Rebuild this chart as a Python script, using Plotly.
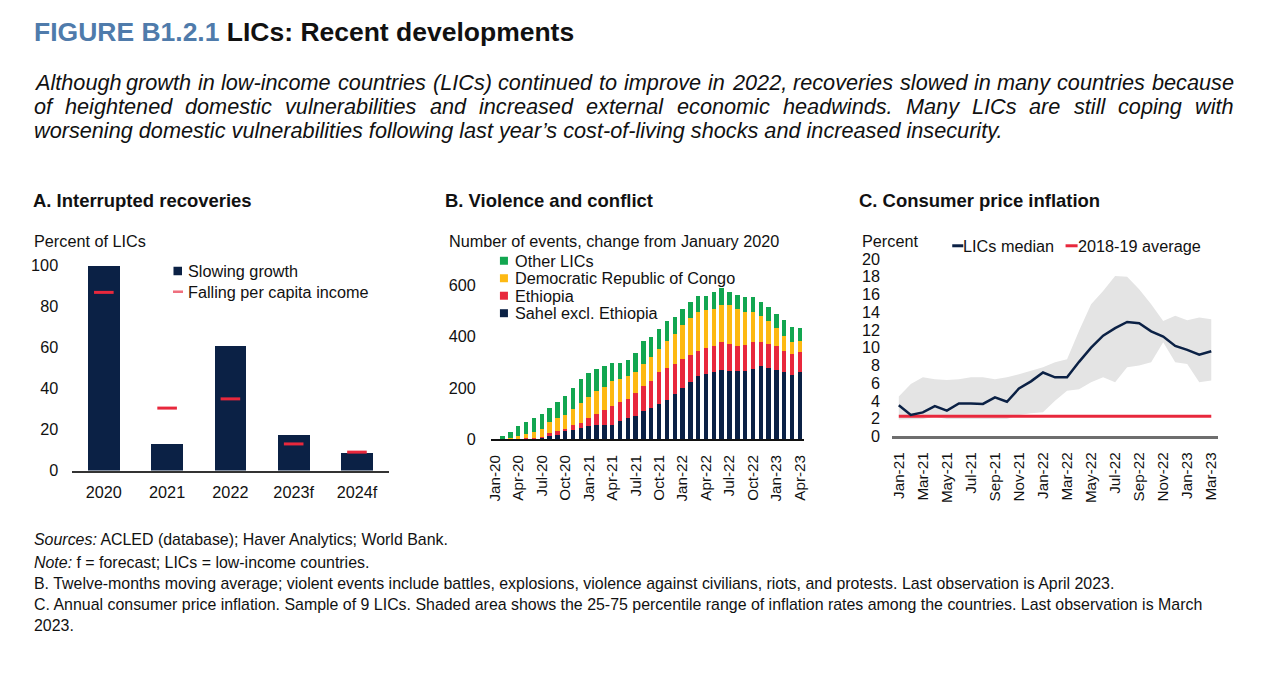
import plotly.graph_objects as go

# ---------------- DATA ----------------
a_years = ["2020", "2021", "2022", "2023f", "2024f"]
a_slowing_growth = [100, 13, 61, 17.5, 8.6]
a_falling_pc_income = [87, 30.5, 35, 13, 9]

b_months = [f"{m}-{y}" for y in ["20", "21", "22", "23"]
            for m in ["Jan", "Feb", "Mar", "Apr", "May", "Jun", "Jul", "Aug", "Sep", "Oct", "Nov", "Dec"]][:40]
b_sahel = [0, 0, 0, 0, 0, 2, 6, 16, 17, 33, 35, 43, 51, 53, 56, 56, 72, 81, 90, 108,
           120, 136, 153, 175, 198, 222, 245, 254, 261, 270, 267, 267, 267, 274, 284, 276, 270, 261, 252, 261]
b_ethiopia = [0, 0, 0, 0, 3, 3, 3, 7, 13, 6, 20, 21, 31, 45, 57, 74, 71, 76, 89, 101,
              108, 125, 123, 118, 115, 108, 101, 101, 102, 108, 105, 96, 102, 104, 94, 96, 93, 85, 81, 78]
b_drc = [0, 0, 2, 10, 17, 22, 28, 42, 50, 55, 62, 76, 84, 88, 92, 98, 93, 88, 82, 84,
         94, 91, 109, 118, 134, 143, 152, 150, 146, 148, 152, 146, 127, 118, 102, 91, 70, 58, 45, 43]
b_other = [0, 11, 24, 40, 48, 53, 61, 55, 66, 73, 81, 95, 92, 88, 82, 68, 60, 64, 75, 89,
           78, 78, 78, 68, 62, 62, 63, 56, 67, 67, 52, 54, 58, 61, 55, 52, 55, 62, 61, 51]
b_tick_labels = b_months[::3]

c_months = [f"{m}-{y}" for y in ["21", "22", "23"]
            for m in ["Jan", "Feb", "Mar", "Apr", "May", "Jun", "Jul", "Aug", "Sep", "Oct", "Nov", "Dec"]][:27]
c_median = [3.5, 2.4, 2.7, 3.4, 2.9, 3.7, 3.7, 3.65, 4.4, 3.9, 5.4, 6.2, 7.2, 6.65, 6.65,
            8.4, 10.0, 11.35, 12.2, 12.9, 12.75, 11.85, 11.25, 10.2, 9.75, 9.2, 9.6]
c_p75 = [4.5, 5.9, 6.65, 6.45, 6.35, 6.45, 6.65, 6.65, 6.45, 6.65, 7.0, 7.4, 7.8, 8.35, 8.7,
         11.9, 14.9, 16.4, 18.1, 18.0, 16.6, 14.9, 13.0, 13.6, 13.1, 13.4, 13.2]
c_p25 = [1.9, 1.95, 1.95, 2.2, 1.95, 1.95, 1.95, 1.95, 2.0, 1.95, 2.4, 2.6, 2.7, 4.0, 5.15,
         5.3, 6.1, 6.65, 6.1, 7.8, 8.0, 8.35, 10.6, 8.35, 8.15, 6.1, 6.3]
c_avg_2018_19 = 2.25
c_tick_labels = c_months[::2]

# ---------------- TEXT ----------------
title_prefix = "FIGURE B1.2.1"
title_main = "LICs: Recent developments"
subtitle_lines = [
    "Although growth in low-income countries (LICs) continued to improve in 2022, recoveries slowed in many countries because",
    "of heightened domestic vulnerabilities and increased external economic headwinds. Many LICs are still coping with",
    "worsening domestic vulnerabilities following last year’s cost-of-living shocks and increased insecurity.",
]
footnotes = [
    "<i>Sources:</i> ACLED (database); Haver Analytics; World Bank.",
    "<i>Note:</i> f = forecast; LICs = low-income countries.",
    "B. Twelve-months moving average; violent events include battles, explosions, violence against civilians, riots, and protests. Last observation is April 2023.",
    "C. Annual consumer price inflation. Sample of 9 LICs. Shaded area shows the 25-75 percentile range of inflation rates among the countries. Last observation is March",
    "2023.",
]

# ---------------- GEOMETRY ----------------
W_PX, H_PX = 1262, 694
# mapping from target-picture pixels to page pixels (compensates the capture framing)
SX, OX, SY, OY = 0.990, 5.5, 0.975, 8.0
FS = 1 / 0.985  # font scale compensation

FONT = "Liberation Sans, Arial, sans-serif"
NAVY = "#0b2145"
RED = "#e8283c"
YELLOW = "#fdb913"
GREEN = "#12a650"
TXT = "#111111"


def gx(x):
    return (x - OX) / SX


def gy(y):
    return (y - OY) / SY


def px(x):
    return gx(x) / W_PX


def py(y):
    return 1 - gy(y) / H_PX


AW = dict(zip("abcdefghijklmnopqrstuvwxyz",
              [556, 556, 500, 556, 556, 278, 556, 556, 222, 222, 500, 222, 833, 556, 556, 556, 556, 333, 500,
               278, 556, 500, 722, 500, 500, 500]))
AW.update(zip("ABCDEFGHIJKLMNOPQRSTUVWXYZ",
              [667, 667, 722, 722, 667, 611, 778, 722, 278, 500, 667, 556, 833, 722, 778, 667, 778, 722, 667,
               611, 722, 667, 944, 667, 667, 611]))
AW.update({c: 556 for c in "0123456789"})
AW.update({" ": 278, "(": 333, ")": 333, ",": 278, ".": 278, "-": 333, "’": 222, "'": 191, ":": 278, ";": 278})


def em(s):
    return 1.008 * sum(AW.get(c, 556) for c in s) / 1000.0


fig = go.Figure()
fig.add_trace(go.Bar(x=a_years, y=a_slowing_growth, marker=dict(color=NAVY, line=dict(width=0)),
                     width=0.5, xaxis="x", yaxis="y", showlegend=False))
fig.add_trace(go.Scatter(x=a_years, y=a_falling_pc_income, mode="markers",
                         marker=dict(symbol="line-ew", size=14, line=dict(color=RED, width=3)),
                         xaxis="x", yaxis="y", showlegend=False, cliponaxis=False))
for vals, col in [(b_sahel, NAVY), (b_ethiopia, RED), (b_drc, YELLOW), (b_other, GREEN)]:
    fig.add_trace(go.Bar(x=b_months, y=vals, marker=dict(color=col, line=dict(width=0)),
                         width=0.56, xaxis="x2", yaxis="y2", showlegend=False))
fig.add_trace(go.Scatter(x=c_months, y=c_p25, mode="lines", line=dict(width=0, color="#e4e4e4"),
                         xaxis="x3", yaxis="y3", showlegend=False, hoverinfo="skip"))
fig.add_trace(go.Scatter(x=c_months, y=c_p75, mode="lines", line=dict(width=0, color="#e4e4e4"),
                         fill="tonexty", fillcolor="#e4e4e4",
                         xaxis="x3", yaxis="y3", showlegend=False, hoverinfo="skip"))
fig.add_trace(go.Scatter(x=c_months, y=[c_avg_2018_19] * len(c_months), mode="lines",
                         line=dict(color=RED, width=3), xaxis="x3", yaxis="y3", showlegend=False))
fig.add_trace(go.Scatter(x=c_months, y=c_median, mode="lines",
                         line=dict(color=NAVY, width=2.5), xaxis="x3", yaxis="y3", showlegend=False))

tickfont = dict(family=FONT, size=16 * FS, color=TXT)
rotfont = dict(family=FONT, size=15 * FS, color=TXT)

fig.update_layout(
    width=W_PX, height=H_PX, autosize=False,
    margin=dict(l=0, r=0, t=0, b=0, pad=0),
    paper_bgcolor="white", plot_bgcolor="rgba(0,0,0,0)",
    barmode="stack",
    font=dict(family=FONT, size=16, color=TXT),
    xaxis=dict(domain=[px(72.5), px(388)], type="category", range=[-0.5, 4.5],
               showline=True, linecolor="#333333", linewidth=2, showgrid=False, zeroline=False,
               ticks="", tickfont=tickfont, ticklabelstandoff=6, anchor="y"),
    yaxis=dict(domain=[py(470), py(265)], range=[0, 100], tickvals=[0, 20, 40, 60, 80, 100],
               showline=False, showgrid=False, zeroline=False, ticks="", tickfont=tickfont,
               ticklabelstandoff=13, anchor="x"),
    xaxis2=dict(domain=[px(490), px(802)], type="category", range=[-0.5, 39.5],
                tickvals=b_tick_labels, ticktext=b_tick_labels, tickangle=-90,
                showline=True, linecolor="#111111", linewidth=2, showgrid=False, zeroline=False,
                ticks="", tickfont=rotfont, ticklabelstandoff=8, anchor="y2"),
    yaxis2=dict(domain=[py(438.3), py(285)], range=[0, 600], tickvals=[0, 200, 400, 600],
                showline=False, showgrid=False, zeroline=False, ticks="", tickfont=tickfont,
                ticklabelstandoff=14, anchor="x2"),
    xaxis3=dict(domain=[px(890), px(1215)], type="category", range=[-0.56, 26.56],
                tickvals=c_tick_labels, ticktext=c_tick_labels, tickangle=-90,
                showline=True, linecolor="#6e6e6e", linewidth=3, showgrid=False, zeroline=False,
                ticks="", tickfont=rotfont, ticklabelstandoff=7, anchor="y3"),
    yaxis3=dict(domain=[py(435.7), py(258.3)], range=[0, 20], tickvals=list(range(0, 21, 2)),
                showline=False, showgrid=False, zeroline=False, ticks="", tickfont=tickfont,
                ticklabelstandoff=11, anchor="x3"),
)

ann = []


def add_text(text, x, y, size=16, xanchor="left", color=TXT, bold=False):
    ann.append(dict(text=(f"<b>{text}</b>" if bold else text), x=px(x), y=py(y), xref="paper", yref="paper",
                    xanchor=xanchor, yanchor="middle", showarrow=False,
                    font=dict(family=FONT, size=size * FS, color=color)))


add_text(f"<span style='color:#4f7bab'>{title_prefix}</span> {title_main}", 32, 31, size=26.1, bold=True)
left, right = 32, 1229
sub_size = (gx(1000) - gx(left)) / em(subtitle_lines[2]) / FS
for i, line in enumerate(subtitle_lines):
    yline = 82 + 24 * i
    if i < 2:
        words = line.split(" ")
        wsum = sum(em(w) for w in words) * sub_size * FS
        gap = (gx(right) - gx(left) - wsum) / (len(words) - 1)
        xx = gx(left)
        for w in words:
            add_text(f"<i>{w}</i>", xx * SX + OX, yline, size=sub_size)
            xx += em(w) * sub_size * FS + gap
    else:
        add_text(f"<i>{line}</i>", left, yline, size=sub_size)

add_text("A. Interrupted recoveries", 31, 200, size=18.2, bold=True)
add_text("B. Violence and conflict", 442, 200, size=18.2, bold=True)
add_text("C. Consumer price inflation", 855, 200, size=18.2, bold=True)
add_text("Percent of LICs", 32, 240)
add_text("Number of events, change from January 2020", 446, 240)
add_text("Percent", 858, 240)
add_text("Slowing growth", 186, 270)
add_text("Falling per capita income", 186, 291)
for j, name in enumerate(["Other LICs", "Democratic Republic of Congo", "Ethiopia", "Sahel excl. Ethiopia"]):
    add_text(name, 512, 260 + 17.5 * j)
add_text("LICs median", 959, 245)
add_text("2018-19 average", 1073, 245)
for t, yy in zip(footnotes, [539, 562, 583, 604, 625]):
    add_text(t, 32, yy, size=15.7)
fig.update_layout(annotations=ann)

shapes = []
shapes.append(dict(type="rect", xref="paper", yref="paper", x0=px(173.5), x1=px(182), y0=py(274.5), y1=py(266),
                   fillcolor=NAVY, line=dict(width=0)))
shapes.append(dict(type="line", xref="paper", yref="paper", x0=px(173), x1=px(183), y0=py(291), y1=py(291),
                   line=dict(color="#ef6f7e", width=2.5)))
for j, col in enumerate([GREEN, YELLOW, RED, NAVY]):
    yc = 260 + 17.5 * j
    shapes.append(dict(type="rect", xref="paper", yref="paper", x0=px(499), x1=px(507),
                       y0=py(yc + 4), y1=py(yc - 4), fillcolor=col, line=dict(width=0)))
shapes.append(dict(type="line", xref="paper", yref="paper", x0=px(950), x1=px(961), y0=py(245), y1=py(245),
                   line=dict(color=NAVY, width=3)))
shapes.append(dict(type="line", xref="paper", yref="paper", x0=px(1063), x1=px(1075), y0=py(245), y1=py(245),
                   line=dict(color=RED, width=3)))
fig.update_layout(shapes=shapes)

fig.write_html("out.html", config={"displayModeBar": False},
               post_script="document.body.style.margin='0px';"
                           "var h=document.documentElement;"
                           "h.style.backgroundColor='#ffffff';"
                           "h.style.backgroundImage='linear-gradient(to bottom, #ffffff 0px, #ffffff 696px, #fdeadb 696px)';"
                           "h.style.backgroundRepeat='no-repeat';"
                           "h.style.backgroundSize='100% 3000px';")
